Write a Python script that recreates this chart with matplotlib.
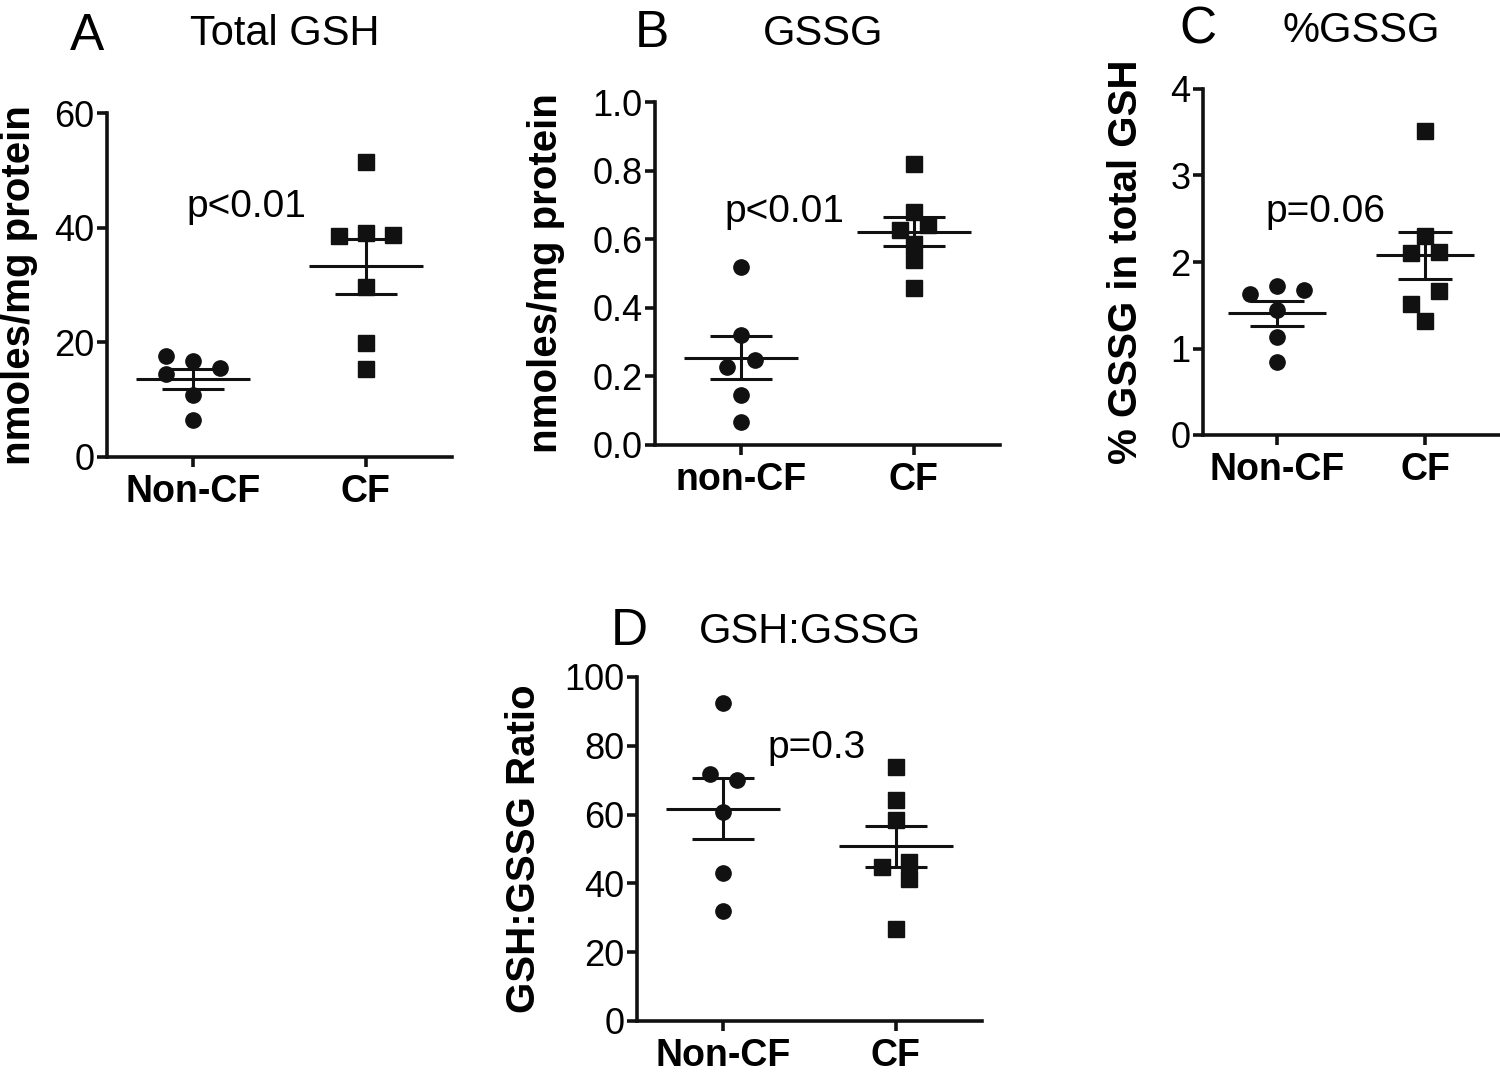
import numpy as np
import matplotlib
matplotlib.use("Agg")
import matplotlib.pyplot as plt

plt.rcParams['font.family'] = ['Liberation Sans', 'DejaVu Sans']

groups_a = ["Non-CF", "CF"]
groups_b = ["non-CF", "CF"]

# A: total GSH (nmoles/mg protein)
gsh_noncf = [17.6, 16.7, 15.5, 14.4, 10.9, 6.5]
gsh_cf = [51.4, 38.5, 39.1, 38.8, 29.7, 19.8, 15.3]

# B: GSSG (nmoles/mg protein)
gssg_noncf = [0.519, 0.320, 0.248, 0.228, 0.146, 0.068]
gssg_cf = [0.820, 0.680, 0.628, 0.641, 0.587, 0.539, 0.459]

# C: % GSSG in total GSH
pct_noncf = [1.63, 1.72, 1.68, 1.45, 1.13, 0.84]
pct_cf = [3.51, 2.30, 2.10, 2.12, 1.67, 1.52, 1.32]

# D: GSH:GSSG ratio
ratio_noncf = [92.5, 71.9, 70.2, 60.8, 43.0, 31.9]
ratio_cf = [73.8, 64.3, 58.3, 44.8, 46.2, 41.4, 26.8]

# horizontal scatter of the dots (layout only)
jit_a = ([-0.157, 0, 0.157, -0.157, 0, 0], [0, -0.157, 0, 0.157, 0, 0, 0])
jit_b = ([0, 0, 0.08, -0.08, 0, 0], [0, 0, -0.08, 0.08, 0, 0, 0])
jit_c = ([-0.185, 0, 0.185, 0, 0, 0], [0, 0, -0.095, 0.095, 0.095, -0.095, 0])
jit_d = ([0, -0.077, 0.077, 0, 0, 0], [0, 0, 0, -0.077, 0.077, 0.077, 0])

W, H = 1500, 1072
fig = plt.figure(figsize=(15, 10.72), dpi=100)


def px_axes(left, top, right, bottom):
    return fig.add_axes([left / W, 1 - bottom / H, (right - left) / W, (bottom - top) / H])


def panel(ax, noncf, cf, jit, labels, ylim, yticks, fmt, ylabel, ptext, pxy):
    for i, (vals, marker, ms) in enumerate([(noncf, 'o', 11), (cf, 's', 11)]):
        vals = np.array(vals)
        xs = i + np.array(jit[i])
        ax.plot(xs, vals, ls='none', marker=marker, ms=ms, color='#111111', clip_on=False)
        m = vals.mean()
        sem = vals.std(ddof=1) / np.sqrt(len(vals))
        ax.hlines(m, i - 0.33, i + 0.33, color='#111111', lw=2.2)
        ax.hlines([m - sem, m + sem], i - 0.18, i + 0.18, color='#111111', lw=2.2)
        ax.vlines(i, m - sem, m + sem, color='#111111', lw=2.2)
    ax.set_xlim(-0.5, 1.5)
    ax.set_ylim(*ylim)
    ax.set_yticks(yticks)
    ax.set_yticklabels([fmt.format(t) for t in yticks])
    ax.set_xticks([0, 1])
    ax.set_xticklabels(labels, fontweight='bold', fontsize=27)
    ax.spines['top'].set_visible(False)
    ax.spines['right'].set_visible(False)
    for s in ['left', 'bottom']:
        ax.spines[s].set_linewidth(2.6)
        ax.spines[s].set_color('#111111')
    ax.tick_params(axis='both', direction='out', width=2.6, length=7, color='#111111')
    ax.tick_params(axis='y', labelsize=26, pad=2)
    ax.tick_params(axis='x', pad=5)
    ax.set_ylabel(ylabel, fontsize=29, fontweight='bold')
    ax.text(pxy[0], pxy[1], ptext, fontsize=28, ha='center', va='baseline')


ax_a = px_axes(107, 113, 452, 457)
panel(ax_a, gsh_noncf, gsh_cf, jit_a, groups_a, (0, 60), [0, 20, 40, 60], "{:.0f}",
      "nmoles/mg protein", "p<0.01", (0.31, 41.9))
ax_a.yaxis.set_label_coords(-0.2, 0.5)

ax_b = px_axes(655, 102, 1000, 445)
panel(ax_b, gssg_noncf, gssg_cf, jit_b, groups_b, (0, 1.0), [0, 0.2, 0.4, 0.6, 0.8, 1.0], "{:.1f}",
      "nmoles/mg protein", "p<0.01", (0.25, 0.65))
ax_b.yaxis.set_label_coords(-0.26, 0.5)

ax_c = px_axes(1203, 89, 1499, 435)
panel(ax_c, pct_noncf, pct_cf, jit_c, groups_a, (0, 4), [0, 1, 2, 3, 4], "{:.0f}",
      "% GSSG in total GSH", "p=0.06", (0.33, 2.46))
ax_c.yaxis.set_label_coords(-0.196, 0.5)

ax_d = px_axes(637, 677, 982, 1021)
panel(ax_d, ratio_noncf, ratio_cf, jit_d, groups_a, (0, 100), [0, 20, 40, 60, 80, 100], "{:.0f}",
      "GSH:GSSG Ratio", "p=0.3", (0.54, 76.5))
ax_d.yaxis.set_label_coords(-0.272, 0.5)

# panel letters and titles
for letter, lx, ly, title, tx, ty in [
        ("A", 87, 50, "Total GSH", 285, 45),
        ("B", 652, 47, "GSSG", 823, 45),
        ("C", 1198, 43, "%GSSG", 1361, 42),
        ("D", 629, 645, "GSH:GSSG", 810, 643)]:
    fig.text(lx / W, 1 - ly / H, letter, fontsize=37, ha='center', va='baseline')
    fig.text(tx / W, 1 - ty / H, title, fontsize=30, ha='center', va='baseline')

fig.savefig("out.png", dpi=100)
